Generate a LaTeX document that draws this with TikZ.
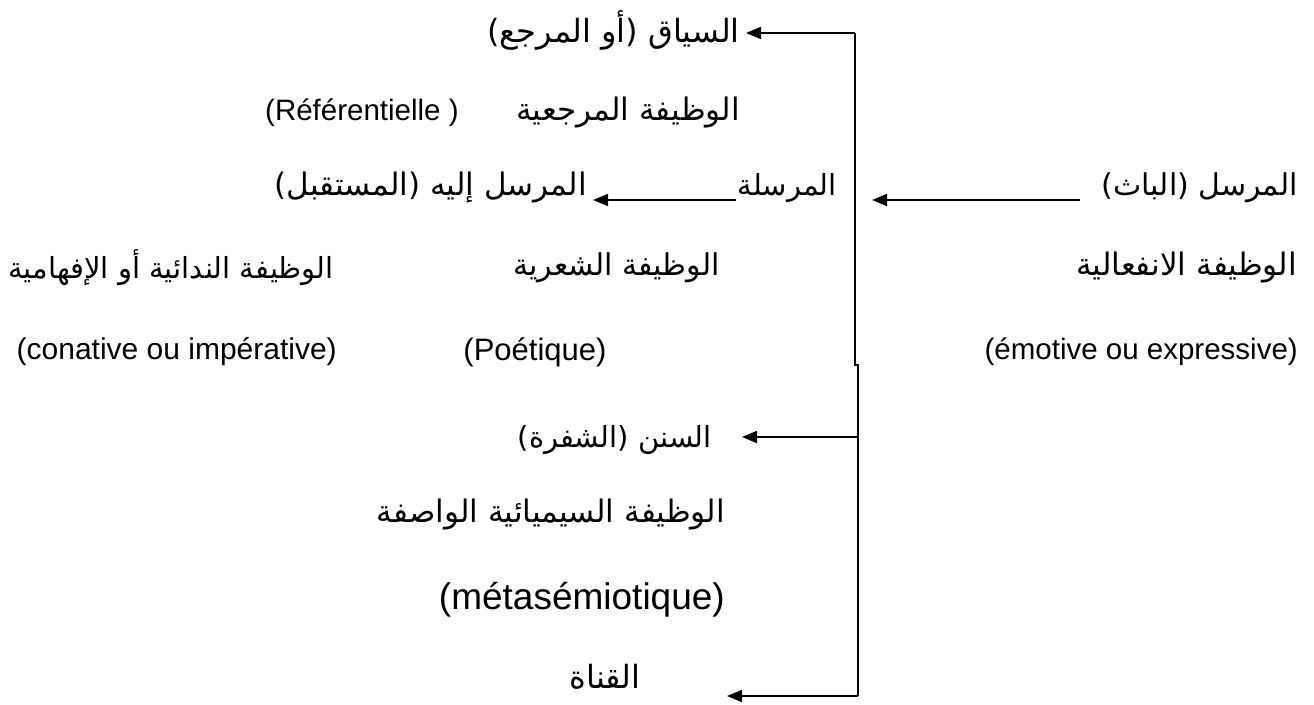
\documentclass[tikz,border=0pt]{standalone}
\usepackage{fontspec}
\setmainfont{Liberation Sans}
\newfontfamily\arabicfont[Script=Arabic]{DejaVu Sans}
\TeXXeTstate=1
\usetikzlibrary{arrows.meta,calc}
\tikzset{
  ar/.style={font=\arabicfont\fontsize{#1}{#1}\selectfont, inner sep=0pt},
  ar/.default=30,
  fr/.style={font=\fontsize{#1}{#1}\selectfont, inner sep=0pt},
  fr/.default=30,
  arr/.style={-{Triangle[length=15pt,width=12pt]}, line width=1.8pt},
  wire/.style={line width=1.8pt}
}
\begin{document}
\begin{tikzpicture}[x=1pt,y=-1pt]
\useasboundingbox[fill=white] (0,0) rectangle (1314,704);

% context and referential function
\node[ar=32, anchor=east] (ctx) at (740,30) {\beginR السياق (أو المرجع)\endR};
\node[ar=31, anchor=east] (refar) at (740,113) {\beginR الوظيفة المرجعية\endR};
\node[fr=29.5, anchor=west] (reffr) at (265,113) {(Référentielle )};

% sender, message, receiver
\node[ar=30, anchor=east] (sender) at (1298,188) {\beginR المرسل (الباث)\endR};
\node[ar=29, anchor=east] (msg) at (837,188) {\beginR المرسلة\endR};
\node[ar=31, anchor=east] (recv) at (587,188) {\beginR المرسل إليه (المستقبل)\endR};

% functions
\node[ar=31, anchor=east] (emoar) at (1297,268) {\beginR الوظيفة الانفعالية\endR};
\node[ar=30, anchor=east] (poetar) at (720,268) {\beginR الوظيفة الشعرية\endR};
\node[ar=29, anchor=east] (conar) at (334,268) {\beginR الوظيفة الندائية أو الإفهامية\endR};

\node[fr=29.5, anchor=east] (emofr) at (1298,352) {(émotive ou expressive)};
\node[fr=31] (poetfr) at (535,352) {(Poétique)};
\node[fr=30, anchor=east] (confr) at (337,352) {(conative ou impérative)};

% code and metalinguistic function
\node[ar=29, anchor=east] (code) at (712,440) {\beginR السنن (الشفرة)\endR};
\node[ar=31, anchor=east] (metaar) at (725,515) {\beginR الوظيفة السيميائية الواصفة\endR};
\node[fr=37, anchor=east] (metafr) at (725,600) {(métasémiotique)};

% channel
\node[ar=32] (chan) at (605,677) {\beginR القناة\endR};

% spine
\coordinate (top) at (855,33);
\coordinate (kink) at (855,365);
\coordinate (bot) at (858,696);
\draw[wire] (top) -- (kink) -- (kink -| bot) -- (bot);

% connectors
\draw[arr] (top) -- ([xshift=6pt]ctx.east |- top);
\coordinate (sendtip) at (872,200);
\draw[arr] ($(sender.west |- sendtip)+(-22,0)$) -- (sendtip);
\draw[arr] ($(msg.west |- sendtip)+(-2,0)$) -- ($(recv.east |- sendtip)+(6,0)$);
\coordinate (codeline) at (858,437);
\draw[arr] (codeline) -- ([xshift=30pt]code.east |- codeline);
\draw[arr] (bot) -- (727,696);
\end{tikzpicture}
\end{document}
